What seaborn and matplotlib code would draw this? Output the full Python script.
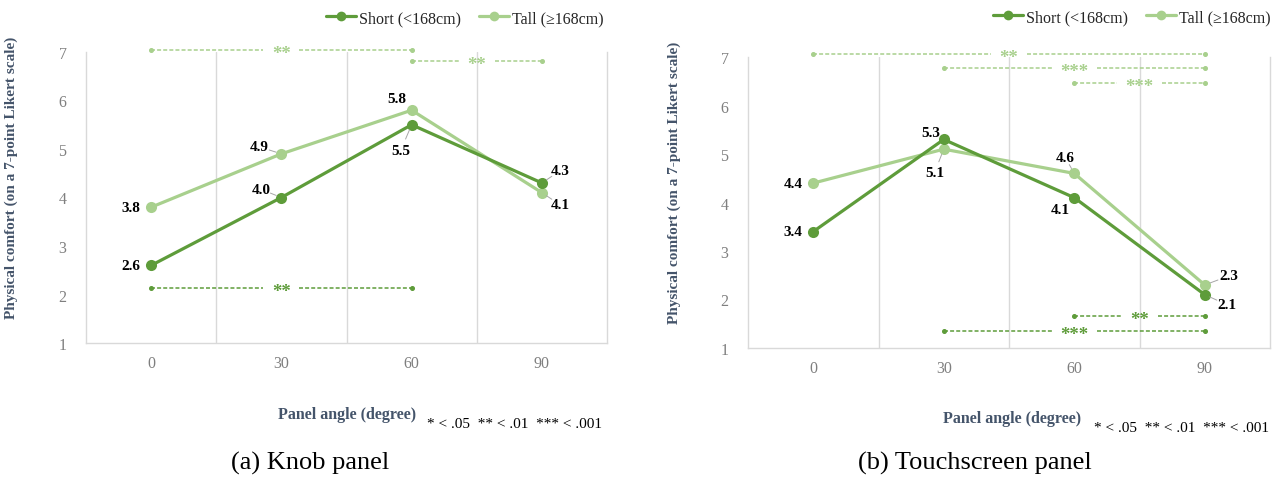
import numpy as np
import pandas as pd
import matplotlib
matplotlib.use('Agg')
import matplotlib.pyplot as plt
from matplotlib.lines import Line2D
import seaborn as sns

# values
angles = [0, 30, 60, 90]
groups = ['Short (<168cm)', 'Tall (\u2265168cm)']
knob_short = [2.6, 4.0, 5.5, 4.3]
knob_tall = [3.8, 4.9, 5.8, 4.1]
touch_short = [3.4, 5.3, 4.1, 2.1]
touch_tall = [4.4, 5.1, 4.6, 2.3]

# significance brackets: (group, from index, to index, stars, y level)
knob_sig = [(1, 0, 2, '**', 7.04), (1, 2, 3, '**', 6.81), (0, 0, 2, '**', 2.13)]
touch_sig = [(1, 0, 3, '**', 7.07), (1, 1, 3, '***', 6.77), (1, 2, 3, '***', 6.46),
             (0, 2, 3, '**', 1.66), (0, 1, 3, '***', 1.35)]

# label offsets in pixels (dx, dy, ha, leader)
knob_lab = {0: [(-11, 0, 'right', False), (-20, 8, 'center', True), (-11, -26, 'center', True), (18, 12, 'center', True)],
            1: [(-11, 0, 'right', False), (-22, 7, 'center', True), (-15, 12, 'center', False), (18, -12, 'center', True)]}
touch_lab = {0: [(-11, 0, 'right', False), (-13, 7, 'center', False), (-14, -12, 'center', False), (22, -10, 'center', True)],
             1: [(-11, 0, 'right', False), (-9, -23, 'center', True), (-9, 16, 'center', True), (24, 9, 'center', True)]}

dark = '#5E9C3A'
light = '#A8D08D'
slate = '#44546A'
grid_c = '#D9D9D9'

sns.set_theme(style='white')
plt.rcParams['font.family'] = ['Liberation Serif', 'DejaVu Serif']

fig = plt.figure(figsize=(12.75, 4.81), dpi=100)
W, H = 1275, 481


def draw_panel(rect, short, tall, sig, labs, legend_xy, note_xy, caption, caption_xy, ylab_xy, xlab_xy):
    ax = fig.add_axes(rect)
    df = pd.DataFrame({
        'pos': list(range(len(angles))) * 2,
        'comfort': short + tall,
        'group': [groups[0]] * len(angles) + [groups[1]] * len(angles),
    })
    sns.lineplot(data=df, x='pos', y='comfort', hue='group', hue_order=groups[::-1],
                 palette={groups[0]: dark, groups[1]: light}, marker='o',
                 markersize=8, markeredgewidth=0, linewidth=2.3, legend=False, ax=ax)
    ax.set_xlim(-0.5, len(angles) - 0.5)
    ax.set_ylim(1, 7)
    ax.set_xticks(range(len(angles)))
    ax.set_xticklabels([str(a) for a in angles])
    ax.set_yticks(range(1, 8))
    ax.tick_params(axis='both', length=0, labelsize=11.5, labelcolor='#7F7F7F')
    ax.tick_params(axis='y', pad=14)
    ax.tick_params(axis='x', pad=9)
    for s in ['left', 'right', 'bottom']:
        ax.spines[s].set_color(grid_c)
        ax.spines[s].set_linewidth(1)
    ax.spines['top'].set_visible(False)
    for b in np.arange(0.5, len(angles) - 1, 1.0):
        ax.axvline(b, color=grid_c, lw=1, zorder=0)

    ax.set_ylabel('Physical comfort (on a 7-point Likert scale)', fontsize=11,
                  fontweight='bold', color=slate)
    ax.yaxis.set_label_coords(*ylab_xy)
    ax.set_xlabel('Panel angle (degree)', fontsize=11.5, fontweight='bold', color=slate)
    ax.xaxis.set_label_coords(*xlab_xy)

    # data labels
    for g, vals in enumerate([short, tall]):
        for i, v in enumerate(vals):
            dx, dy, ha, lead = labs[g][i]
            ax.annotate(f'{v:.1f}', xy=(i, v), xytext=(dx * 0.72, dy * 0.72),
                        textcoords='offset points', ha=ha, va='center',
                        fontsize=11, fontweight='bold', color='black')
            if lead:
                ax.annotate('', xy=(i, v), xytext=(dx * 0.72 * 0.55, dy * 0.72 * 0.55),
                            textcoords='offset points',
                            arrowprops=dict(arrowstyle='-', color='#A6A6A6', lw=0.7,
                                            shrinkA=0, shrinkB=4))

    # significance brackets: dashed line with a gap for the stars
    step_px = rect[2] * W / len(angles)
    for g, a, b, stars, y in sig:
        c = dark if g == 0 else light
        m = (a + b) / 2
        gap = (len(stars) * 4.5 + 9) / step_px
        for x0, x1 in [(a, m - gap), (m + gap, b)]:
            ax.plot([x0, x1], [y, y], color=c, lw=1.1, ls=(0, (2.6, 1.4)),
                    clip_on=False, zorder=3)
        ax.plot([a, b], [y, y], ls='none', marker='o', color=c, markersize=2.6,
                clip_on=False, zorder=3)
        ax.annotate(stars, xy=(m, y), xytext=(0, -2.6), textcoords='offset points',
                    ha='center', va='center', fontsize=13.5, fontweight='bold', color=c,
                    zorder=4, annotation_clip=False)

    handles = [Line2D([], [], color=dark, lw=2.3, marker='o', ms=7, mew=0),
               Line2D([], [], color=light, lw=2.3, marker='o', ms=7, mew=0)]
    fig.legend(handles, groups, loc='center right', ncol=2, frameon=False,
               bbox_to_anchor=(legend_xy[0] / W, 1 - legend_xy[1] / H),
               fontsize=11.5, handlelength=1.9, handletextpad=0.2,
               columnspacing=1.1, borderpad=0, borderaxespad=0)
    fig.text(note_xy[0] / W, 1 - note_xy[1] / H, '* < .05  ** < .01  *** < .001',
             ha='right', va='center', fontsize=11, color='black')
    fig.text(caption_xy[0] / W, 1 - caption_xy[1] / H, caption,
             ha='center', va='center', fontsize=19, color='black')
    return ax


draw_panel([86 / W, 1 - 344 / H, 521 / W, 291 / H], knob_short, knob_tall, knob_sig, knob_lab,
           (604, 19), (602, 424), '(a) Knob panel', (310, 463), (-0.1305, 0.57), (0.501, -0.2165))
draw_panel([748 / W, 1 - 349 / H, 522 / W, 291 / H], touch_short, touch_tall, touch_sig, touch_lab,
           (1271, 18), (1269, 429), '(b) Touchscreen panel', (975, 463), (-0.128, 0.57), (0.506, -0.213))

fig.savefig('out.png', dpi=100)
